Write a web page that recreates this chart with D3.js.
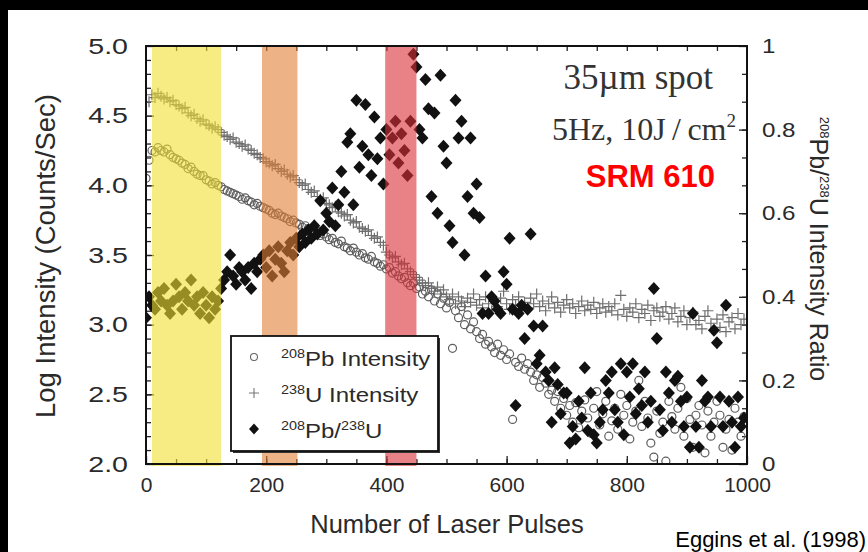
<!DOCTYPE html>
<html>
<head>
<meta charset="utf-8">
<script src="https://cdn.jsdelivr.net/npm/d3@7"></script>
<style>
  html, body { margin: 0; padding: 0; background: #fff; }
  svg { display: block; }
  text { font-family: "Liberation Sans", Arial, Helvetica, sans-serif; }
</style>
</head>
<body>
<svg id="chart" width="868" height="552"></svg>
<script>
// Laser ablation time series: pulse number sampled every 5 pulses
const pulses = d3.range(0, 1000, 5);

// log10 of 208Pb intensity (counts/sec)
const pb208 = [
  4.05,4.18,4.25,4.24,4.27,4.25,4.24,4.26,4.22,4.20,4.19,4.18,4.16,4.15,4.12,4.13,4.10,4.08,4.07,4.07,
  4.04,4.03,4.01,4.02,4.00,3.99,3.97,3.96,3.95,3.94,3.93,3.92,3.90,3.91,3.89,3.88,3.86,3.87,3.85,3.84,
  3.83,3.82,3.80,3.79,3.80,3.78,3.77,3.76,3.74,3.75,3.73,3.72,3.70,3.71,3.69,3.68,3.66,3.67,3.64,3.65,
  3.63,3.61,3.62,3.59,3.58,3.60,3.56,3.55,3.53,3.55,3.52,3.50,3.51,3.48,3.47,3.49,3.45,3.44,3.42,3.43,
  3.40,3.41,3.37,3.38,3.35,3.33,3.34,3.30,3.28,3.30,3.26,3.27,3.22,3.24,3.20,3.25,3.17,3.22,3.15,3.19,
  3.12,3.16,2.83,3.10,3.05,3.13,3.00,3.07,2.97,3.02,2.95,2.90,2.93,2.86,2.88,2.84,2.80,2.86,2.78,2.82,
  2.75,2.79,2.32,2.73,2.70,2.76,2.68,2.72,2.66,2.60,2.64,2.55,2.62,2.58,2.50,2.53,2.45,2.52,2.40,2.47,
  2.35,2.42,2.30,2.44,2.26,2.38,2.46,2.33,2.22,2.40,2.52,2.28,2.36,2.45,2.20,2.31,2.40,2.25,2.50,2.35,
  2.42,2.18,2.30,2.38,2.60,2.27,2.45,2.33,2.15,2.05,2.38,2.22,2.30,2.02,2.45,2.34,2.25,2.40,2.55,2.20,
  2.47,2.32,2.12,2.35,2.42,2.28,2.08,2.38,2.20,2.30,2.45,2.35,2.12,2.25,2.32,2.10,2.40,2.30,2.20,2.34
];

// log10 of 238U intensity (counts/sec)
const u238 = [
  4.50,4.60,4.65,4.63,4.66,4.64,4.62,4.63,4.60,4.61,4.58,4.57,4.55,4.56,4.52,4.50,4.51,4.48,4.46,4.47,
  4.44,4.43,4.41,4.42,4.40,4.38,4.36,4.35,4.33,4.34,4.31,4.30,4.28,4.29,4.26,4.25,4.23,4.22,4.20,4.19,
  4.17,4.16,4.14,4.15,4.12,4.10,4.11,4.08,4.06,4.07,4.04,4.02,4.00,4.01,3.97,3.95,3.96,3.92,3.90,3.91,
  3.87,3.86,3.84,3.85,3.81,3.80,3.78,3.79,3.75,3.73,3.74,3.70,3.69,3.67,3.68,3.64,3.62,3.63,3.59,3.57,
  3.52,3.50,3.48,3.49,3.45,3.43,3.44,3.40,3.38,3.36,3.34,3.32,3.30,3.28,3.30,3.26,3.24,3.27,3.22,3.25,
  3.20,3.18,3.22,3.15,3.20,3.17,3.13,3.19,3.16,3.22,3.14,3.18,3.12,3.20,3.15,3.10,3.17,3.13,3.19,3.24,
  3.15,3.11,3.18,3.14,3.20,3.10,3.16,3.12,3.19,3.15,3.22,3.13,3.17,3.10,3.15,3.20,3.12,3.16,3.09,3.14,
  3.18,3.12,3.15,3.08,3.13,3.17,3.10,3.14,3.11,3.16,3.08,3.12,3.15,3.09,3.13,3.10,3.15,3.07,3.21,3.11,
  3.06,3.12,3.09,3.15,3.05,3.11,3.08,3.14,3.03,3.10,3.12,3.06,3.09,3.13,3.04,3.08,3.12,3.02,3.06,3.10,
  3.00,3.05,3.09,3.00,3.03,2.97,3.06,3.10,3.01,2.96,3.04,2.98,3.07,2.95,3.02,3.05,2.97,3.08,3.00,3.04
];

// 208Pb/238U intensity ratio (right axis)
const pbU = [
  0.35,0.40,0.38,0.37,0.41,0.39,0.42,0.38,0.36,0.39,0.43,0.40,0.37,0.41,0.39,0.44,0.38,0.40,0.36,0.41,
  0.38,0.35,0.40,0.37,0.39,0.42,0.44,0.46,0.50,0.45,0.43,0.47,0.46,0.44,0.47,0.42,0.48,0.46,0.49,0.50,
  0.47,0.51,0.45,0.49,0.52,0.48,0.46,0.51,0.53,0.50,0.54,0.52,0.55,0.53,0.56,0.54,0.57,0.55,0.63,0.56,
  0.60,0.58,0.66,0.57,0.62,0.70,0.65,0.77,0.79,0.62,0.87,0.71,0.76,0.86,0.74,0.69,0.83,0.73,0.78,0.67,
  0.80,0.74,0.78,0.82,0.72,0.79,0.75,0.69,0.82,0.98,0.95,0.80,0.78,0.92,0.85,0.64,0.84,0.60,0.93,0.76,
  0.72,0.57,0.53,0.87,0.78,0.82,0.50,0.64,0.78,0.60,0.67,0.59,0.36,0.45,0.36,0.40,0.39,0.37,0.36,0.46,
  0.43,0.54,0.37,0.14,0.36,0.38,0.30,0.37,0.55,0.33,0.24,0.26,0.33,0.22,0.20,0.10,0.23,0.19,0.12,0.17,
  0.17,0.05,0.09,0.06,0.15,0.11,0.23,0.08,0.17,0.07,0.05,0.10,0.13,0.20,0.17,0.22,0.13,0.10,0.24,0.07,
  0.22,0.16,0.24,0.12,0.18,0.14,0.22,0.10,0.15,0.42,0.30,0.13,0.08,0.22,0.17,0.10,0.20,0.21,0.15,0.09,
  0.16,0.04,0.36,0.09,0.04,0.20,0.15,0.16,0.09,0.32,0.29,0.16,0.09,0.38,0.15,0.10,0.04,0.16,0.09,0.11
];

// highlighted pulse windows
const bandStart = [10, 193, 398];
const bandEnd = [125, 252, 450];
const bandColors = ["#f2e030", "#e37f37", "#d92f37"];

const xTickValues = [0, 200, 400, 600, 800, 1000];
const yTickValues = [2.0, 2.5, 3.0, 3.5, 4.0, 4.5, 5.0];
const ratioTickValues = [0, 0.2, 0.4, 0.6, 0.8, 1];

const svg = d3.select("#chart");
const W = 868, H = 552;

// dark border strips along the top and left edges
svg.append("rect").attr("width", W).attr("height", H).attr("fill", "#fff");
svg.append("rect").attr("x", 0).attr("y", 0).attr("width", W).attr("height", 10).attr("fill", "#000");
svg.append("rect").attr("x", 0).attr("y", 0).attr("width", 8).attr("height", H).attr("fill", "#000");

const x = d3.scaleLinear().domain([0, 1000]).range([146, 747]);
const y = d3.scaleLinear().domain([2, 5]).range([464, 46]);
const r = d3.scaleLinear().domain([0, 1]).range([464, 46]);

const plotLeft = x.range()[0], plotRight = x.range()[1];
const plotTop = y.range()[1], plotBottom = y.range()[0];

svg.append("defs").append("clipPath").attr("id", "plotClip")
  .append("rect").attr("x", plotLeft).attr("y", plotTop)
  .attr("width", plotRight - plotLeft).attr("height", plotBottom - plotTop);

const tickColor = "#222";
const labelColor = "#2a2a2a";

function styleAxis(g) {
  g.select(".domain").remove();
  g.selectAll(".tick line").attr("stroke", tickColor).attr("stroke-width", 1.3);
  g.selectAll(".tick text").attr("fill", labelColor).attr("font-size", 21)
    .attr("font-family", "'Liberation Sans', Arial, sans-serif");
}

// minor ticks
svg.append("g").attr("transform", `translate(0,${plotBottom})`)
  .call(d3.axisBottom(x).tickValues(d3.range(50, 1000, 50)).tickSize(-5).tickFormat(""))
  .call(styleAxis);
svg.append("g").attr("transform", `translate(0,${plotTop})`)
  .call(d3.axisTop(x).tickValues(d3.range(50, 1000, 50)).tickSize(-5).tickFormat(""))
  .call(styleAxis);
svg.append("g").attr("transform", `translate(${plotLeft},0)`)
  .call(d3.axisLeft(y).tickValues(d3.range(21, 50).map(v => v / 10)).tickSize(-5).tickFormat(""))
  .call(styleAxis);
svg.append("g").attr("transform", `translate(${plotRight},0)`)
  .call(d3.axisRight(r).tickValues(d3.range(1, 15).map(i => i / 15)).tickSize(-5).tickFormat(""))
  .call(styleAxis);

// major ticks with labels
svg.append("g").attr("transform", `translate(0,${plotBottom})`)
  .call(d3.axisBottom(x).tickValues(xTickValues).tickSize(-8).tickPadding(13).tickFormat(d3.format("d")))
  .call(styleAxis);

// left labels are drawn slightly wide, like the printed figure
const leftStretch = 1.3;
svg.append("g").attr("transform", `translate(${plotLeft},0)`)
  .call(d3.axisLeft(y).tickValues(yTickValues).tickSize(-8).tickPadding(0).tickFormat(d3.format(".1f")))
  .call(styleAxis)
  .call(g => g.selectAll(".tick text")
    .attr("font-size", 22)
    .attr("x", -18 / leftStretch)
    .attr("transform", `scale(${leftStretch},1)`));

const rightStretch = 1.15;
svg.append("g").attr("transform", `translate(${plotRight},0)`)
  .call(d3.axisRight(r).tickValues(ratioTickValues).tickSize(-8).tickPadding(0)
    .tickFormat(d => (d === 0 || d === 1) ? String(d) : d3.format(".1f")(d)))
  .call(styleAxis)
  .call(g => g.selectAll(".tick text")
    .attr("x", 15 / rightStretch)
    .attr("transform", `scale(${rightStretch},1)`));

// data marks
const plot = svg.append("g").attr("clip-path", "url(#plotClip)");

plot.append("g").selectAll("circle")
  .data(pulses.map((p, i) => [p, pb208[i]]))
  .join("circle")
  .attr("cx", d => x(d[0])).attr("cy", d => y(d[1])).attr("r", 4)
  .attr("fill", "none").attr("stroke", "#5e5e5e").attr("stroke-width", 1.2);

const plusPath = "M-5.5,0H5.5M0,-5.5V5.5";
plot.append("g").selectAll("path")
  .data(pulses.map((p, i) => [p, u238[i]]))
  .join("path")
  .attr("d", plusPath)
  .attr("transform", d => `translate(${x(d[0])},${y(d[1])})`)
  .attr("stroke", "#6e6e6e").attr("stroke-width", 1.2).attr("fill", "none");

const diamondPath = "M0,-6.5L6,0L0,6.5L-6,0Z";
plot.append("g").selectAll("path")
  .data(pulses.map((p, i) => [p, pbU[i]]))
  .join("path")
  .attr("d", diamondPath)
  .attr("transform", d => `translate(${x(d[0])},${r(d[1])})`)
  .attr("fill", "#111");

// translucent pulse windows over the data
svg.append("g").selectAll("rect")
  .data(bandStart.map((s, i) => ({ s, e: bandEnd[i], c: bandColors[i] })))
  .join("rect")
  .attr("x", d => x(d.s)).attr("width", d => x(d.e) - x(d.s))
  .attr("y", plotTop + 1).attr("height", plotBottom - plotTop + 1)
  .attr("fill", d => d.c).attr("fill-opacity", 0.6);

// plot frame
svg.append("rect")
  .attr("x", plotLeft).attr("y", plotTop)
  .attr("width", plotRight - plotLeft).attr("height", plotBottom - plotTop)
  .attr("fill", "none").attr("stroke", "#111").attr("stroke-width", 2);

// legend
const lg = svg.append("g");
lg.append("rect").attr("x", 233).attr("y", 338).attr("width", 207).attr("height", 115).attr("fill", "#333");
lg.append("rect").attr("x", 231).attr("y", 336).attr("width", 207).attr("height", 115)
  .attr("fill", "#fff").attr("stroke", "#111").attr("stroke-width", 1.8);

const legendRows = [
  { sym: "circle", parts: [["208", true], ["Pb Intensity", false]] },
  { sym: "plus", parts: [["238", true], ["U Intensity", false]] },
  { sym: "diamond", parts: [["208", true], ["Pb/", false], ["238", true], ["U", false]] }
];
legendRows.forEach((row, i) => {
  const cy = 357 + i * 36;
  if (row.sym === "circle") {
    lg.append("circle").attr("cx", 254).attr("cy", cy).attr("r", 3.5)
      .attr("fill", "none").attr("stroke", "#666").attr("stroke-width", 1.1);
  } else if (row.sym === "plus") {
    lg.append("path").attr("d", "M-5,0H5M0,-5V5").attr("transform", `translate(254,${cy})`)
      .attr("stroke", "#777").attr("stroke-width", 1.1);
  } else {
    lg.append("path").attr("d", "M0,-5.5L5,0L0,5.5L-5,0Z").attr("transform", `translate(254,${cy})`).attr("fill", "#111");
  }
  const t = lg.append("text")
    .attr("transform", `translate(281,${cy + 9}) scale(1.2,1)`)
    .attr("fill", labelColor).attr("font-size", 20);
  row.parts.forEach(([s, sup]) => {
    t.append("tspan").text(s)
      .attr("font-size", sup ? 12 : 20)
      .attr("baseline-shift", sup ? "8" : null);
  });
});

// axis titles
svg.append("text")
  .attr("transform", "translate(55,256) rotate(-90)")
  .attr("text-anchor", "middle").attr("fill", labelColor).attr("font-size", 27.5)
  .text("Log  Intensity (Counts/Sec)");

svg.append("text")
  .attr("x", 447).attr("y", 533)
  .attr("text-anchor", "middle").attr("fill", labelColor).attr("font-size", 25.5)
  .text("Number of Laser Pulses");

const rt = svg.append("text")
  .attr("transform", "translate(810,249) rotate(90)")
  .attr("text-anchor", "middle").attr("fill", labelColor).attr("font-size", 25);
[["208", true], ["Pb/", false], ["238", true], ["U Intensity Ratio", false]].forEach(([s, sup]) => {
  rt.append("tspan").text(s).attr("font-size", sup ? 13 : 25).attr("baseline-shift", sup ? "10" : null);
});

// annotations
svg.append("text")
  .attr("x", 713).attr("y", 89).attr("text-anchor", "end")
  .attr("font-size", 35).attr("fill", "#333")
  .style("font-family", "'Liberation Serif', 'Times New Roman', serif")
  .text("35µm spot");

const sub = svg.append("text")
  .attr("x", 736).attr("y", 140).attr("text-anchor", "end")
  .attr("font-size", 32).attr("fill", "#333")
  .style("font-family", "'Liberation Serif', 'Times New Roman', serif");
sub.append("tspan").text("5Hz, 10J\u2009/\u2009cm");
sub.append("tspan").text("2").attr("font-size", 19).attr("baseline-shift", "13");

svg.append("text")
  .attr("x", 715).attr("y", 187).attr("text-anchor", "end")
  .attr("font-size", 31).attr("font-weight", "bold").attr("fill", "#ff0000")
  .text("SRM 610");

svg.append("text")
  .attr("x", 866).attr("y", 547).attr("text-anchor", "end")
  .attr("font-size", 22).attr("fill", "#000")
  .text("Eggins et al. (1998)");
</script>
</body>
</html>
